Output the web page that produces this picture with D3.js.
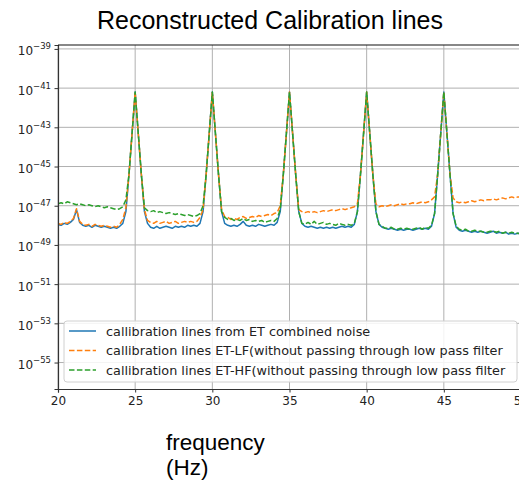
<!DOCTYPE html>
<html>
<head>
<meta charset="utf-8">
<script src="https://cdn.jsdelivr.net/npm/d3@7"></script>
<style>
  html, body { margin: 0; padding: 0; background: #fff; overflow: hidden; }
  svg { display: block; }
</style>
</head>
<body>
<svg id="chart" width="519" height="484"></svg>
<script>
// ---------------- data ----------------
const frequency = [
  20.0,20.2,20.4,20.6,20.8,21.0,21.2,21.4,21.6,21.8,
  22.0,22.2,22.4,22.6,22.8,23.0,23.2,23.4,23.6,23.8,
  24.0,24.2,24.4,24.6,24.8,25.0,25.2,25.4,25.6,25.8,
  26.0,26.2,26.4,26.6,26.8,27.0,27.2,27.4,27.6,27.8,
  28.0,28.2,28.4,28.6,28.8,29.0,29.2,29.4,29.6,29.8,
  30.0,30.2,30.4,30.6,30.8,31.0,31.2,31.4,31.6,31.8,
  32.0,32.2,32.4,32.6,32.8,33.0,33.2,33.4,33.6,33.8,
  34.0,34.2,34.4,34.6,34.8,35.0,35.2,35.4,35.6,35.8,
  36.0,36.2,36.4,36.6,36.8,37.0,37.2,37.4,37.6,37.8,
  38.0,38.2,38.4,38.6,38.8,39.0,39.2,39.4,39.6,39.8,
  40.0,40.2,40.4,40.6,40.8,41.0,41.2,41.4,41.6,41.8,
  42.0,42.2,42.4,42.6,42.8,43.0,43.2,43.4,43.6,43.8,
  44.0,44.2,44.4,44.6,44.8,45.0,45.2,45.4,45.6,45.8,
  46.0,46.2,46.4,46.6,46.8,47.0,47.2,47.4,47.6,47.8,
  48.0,48.2,48.4,48.6,48.8,49.0,49.2,49.4,49.6,49.8,
  50.0
];

// log10 of the amplitude
const combinedLog10 = [
  -47.95,-48.0,-47.9,-47.95,-47.85,-47.7,-47.2,-47.85,-48.0,-48.05,
  -48.0,-48.1,-48.0,-48.05,-48.1,-48.05,-48.1,-48.15,-48.1,-48.15,
  -48.05,-47.9,-47.3,-45.4,-43.3,-41.2,-43.3,-45.4,-47.3,-47.9,
  -48.1,-48.15,-48.05,-48.15,-48.1,-48.05,-48.1,-48.15,-48.05,-48.1,
  -48.05,-48.1,-48.0,-48.05,-48.0,-48.05,-47.9,-47.3,-45.4,-43.3,
  -41.2,-43.3,-45.4,-47.3,-47.9,-48.0,-48.05,-48.0,-48.05,-47.95,
  -47.8,-48.0,-48.05,-48.0,-48.05,-47.95,-48.0,-48.05,-48.0,-47.95,
  -48.0,-47.85,-47.3,-45.4,-43.3,-41.2,-43.3,-45.4,-47.3,-47.9,
  -48.05,-48.1,-48.05,-48.1,-48.15,-48.1,-48.15,-48.1,-48.15,-48.1,
  -48.15,-48.1,-48.05,-48.1,-48.05,-48.1,-47.95,-47.3,-45.4,-43.3,
  -41.2,-43.3,-45.4,-47.3,-47.95,-48.1,-48.15,-48.2,-48.15,-48.2,
  -48.25,-48.2,-48.25,-48.2,-48.2,-48.25,-48.2,-48.15,-48.2,-48.15,
  -48.2,-48.05,-47.4,-45.4,-43.3,-41.2,-43.3,-45.4,-47.4,-48.1,
  -48.25,-48.3,-48.25,-48.3,-48.35,-48.3,-48.35,-48.3,-48.35,-48.4,
  -48.35,-48.3,-48.4,-48.35,-48.4,-48.35,-48.45,-48.4,-48.45,-48.4,
  -48.45
];

const lfLog10 = [
  -47.9,-47.95,-47.85,-47.9,-47.8,-47.65,-47.15,-47.8,-47.95,-48.0,
  -47.95,-48.05,-47.95,-48.0,-48.05,-48.0,-48.05,-48.1,-48.05,-48.1,
  -47.95,-47.7,-47.1,-45.4,-43.3,-41.2,-43.3,-45.4,-47.2,-47.75,
  -47.85,-47.9,-47.8,-47.9,-47.85,-47.8,-47.9,-47.85,-47.8,-47.9,
  -47.85,-47.8,-47.85,-47.8,-47.85,-47.8,-47.6,-47.2,-45.4,-43.3,
  -41.2,-43.3,-45.4,-47.2,-47.55,-47.6,-47.7,-47.65,-47.7,-47.6,
  -47.55,-47.65,-47.6,-47.55,-47.6,-47.5,-47.55,-47.5,-47.45,-47.5,
  -47.4,-47.35,-47.0,-45.4,-43.3,-41.2,-43.3,-45.4,-47.2,-47.3,
  -47.35,-47.3,-47.35,-47.3,-47.35,-47.3,-47.25,-47.3,-47.25,-47.2,
  -47.25,-47.2,-47.15,-47.2,-47.15,-47.1,-47.05,-46.9,-45.4,-43.3,
  -41.2,-43.3,-45.4,-46.9,-47.05,-47.0,-47.05,-47.0,-46.95,-47.0,
  -46.95,-46.9,-46.95,-46.9,-46.9,-46.85,-46.9,-46.85,-46.8,-46.85,
  -46.8,-46.7,-46.55,-45.4,-43.3,-41.2,-43.3,-45.4,-46.6,-46.8,
  -46.85,-46.8,-46.85,-46.8,-46.75,-46.8,-46.75,-46.7,-46.75,-46.7,
  -46.7,-46.65,-46.7,-46.65,-46.6,-46.65,-46.6,-46.55,-46.6,-46.55,
  -46.55
];

const hfLog10 = [
  -46.9,-46.85,-46.9,-46.8,-46.85,-46.9,-46.95,-46.9,-46.95,-47.0,
  -46.95,-47.0,-47.05,-47.0,-47.05,-47.1,-47.05,-47.1,-47.15,-47.2,
  -47.15,-47.05,-46.7,-45.4,-43.3,-41.2,-43.3,-45.4,-47.1,-47.25,
  -47.3,-47.25,-47.35,-47.3,-47.35,-47.4,-47.35,-47.4,-47.45,-47.4,
  -47.45,-47.5,-47.45,-47.5,-47.55,-47.5,-47.4,-47.0,-45.4,-43.3,
  -41.2,-43.3,-45.4,-47.3,-47.6,-47.7,-47.65,-47.75,-47.7,-47.75,
  -47.65,-47.75,-47.7,-47.8,-47.75,-47.8,-47.75,-47.85,-47.8,-47.75,
  -47.8,-47.65,-47.2,-45.4,-43.3,-41.2,-43.3,-45.4,-47.3,-47.9,
  -47.95,-47.85,-47.95,-47.8,-47.95,-47.9,-47.85,-47.95,-47.9,-47.95,
  -48.0,-47.9,-47.95,-48.0,-47.95,-48.0,-47.9,-47.3,-45.4,-43.3,
  -41.2,-43.3,-45.4,-47.3,-47.95,-48.05,-48.15,-48.15,-48.1,-48.2,
  -48.2,-48.15,-48.2,-48.15,-48.2,-48.2,-48.15,-48.1,-48.2,-48.1,
  -48.15,-48.0,-47.4,-45.4,-43.3,-41.2,-43.3,-45.4,-47.4,-48.05,
  -48.2,-48.25,-48.2,-48.3,-48.3,-48.25,-48.3,-48.3,-48.35,-48.35,
  -48.3,-48.3,-48.35,-48.3,-48.4,-48.35,-48.4,-48.35,-48.4,-48.4,
  -48.45
];

const seriesNames = [
  "callibration lines from ET combined noise",
  "callibration lines ET-LF(without passing through low pass filter",
  "callibration lines ET-HF(without passing through low pass filter"
];
const seriesColors = ["#1f77b4", "#ff7f0e", "#2ca02c"];
const xTicks = [20, 25, 30, 35, 40, 45, 50];
const yTickExponents = [-39, -41, -43, -45, -47, -49, -51, -53, -55];
const titleText = "Reconstructed Calibration lines";
const xLabelLines = ["frequency", "(Hz)"];

// ---------------- layout ----------------
const svg = d3.select("#chart");
const plot = { left: 58, top: 45, right: 521, bottom: 389 };

const x = d3.scaleLinear().domain([20, 50]).range([plot.left, plot.right]);
const y = d3.scaleLog().domain([Math.pow(10, -56.35), Math.pow(10, -38.8)]).range([plot.bottom, plot.top]);

// clip
svg.append("defs").append("clipPath").attr("id", "clip")
  .append("rect").attr("x", plot.left).attr("y", plot.top)
  .attr("width", plot.right - plot.left).attr("height", plot.bottom - plot.top);

// grid
const grid = svg.append("g");
grid.selectAll("line.gx").data(xTicks).join("line")
  .attr("x1", d => x(d)).attr("x2", d => x(d))
  .attr("y1", plot.top).attr("y2", plot.bottom)
  .attr("stroke", "#b0b0b0").attr("stroke-width", 1);
grid.selectAll("line.gy").data(yTickExponents).join("line")
  .attr("x1", plot.left).attr("x2", plot.right)
  .attr("y1", d => y(Math.pow(10, d))).attr("y2", d => y(Math.pow(10, d)))
  .attr("stroke", "#b0b0b0").attr("stroke-width", 1);

// lines
const allSeries = [combinedLog10, lfLog10, hfLog10];
const line = d3.line()
  .x((d, i) => x(frequency[i]))
  .y(d => y(Math.pow(10, d)));
const dashes = [null, "5.5,2.4", "5.5,2.4"];
const lines = svg.append("g").attr("clip-path", "url(#clip)");
allSeries.forEach((s, k) => {
  lines.append("path")
    .datum(s)
    .attr("d", line)
    .attr("fill", "none")
    .attr("stroke", seriesColors[k])
    .attr("stroke-width", 1.5)
    .attr("stroke-linejoin", "round")
    .attr("stroke-dasharray", dashes[k]);
});

// axes
const xAxis = d3.axisBottom(x).tickValues(xTicks).tickSize(3.5).tickPadding(3.5).tickFormat(d3.format("d"));
const gx = svg.append("g").attr("transform", `translate(0,${plot.bottom})`).call(xAxis);
gx.select(".domain").attr("stroke", "#333").attr("stroke-width", 1.2);
gx.selectAll(".tick line").attr("stroke", "#333");
gx.selectAll(".tick text").attr("font-family", "DejaVu Sans, sans-serif").attr("font-size", 12).attr("fill", "#222");

const yAxis = d3.axisLeft(y).tickValues(yTickExponents.map(e => Math.pow(10, e))).tickSize(3.5).tickFormat("");
const gy = svg.append("g").attr("transform", `translate(${plot.left},0)`).call(yAxis);
gy.select(".domain").attr("stroke", "#333").attr("stroke-width", 1.2);
gy.selectAll(".tick line").attr("stroke", "#333");
gy.selectAll(".tick").each(function(d) {
  const e = Math.round(Math.log10(d));
  const t = d3.select(this).append("text")
    .attr("x", -7).attr("y", 6)
    .attr("text-anchor", "end")
    .attr("font-family", "DejaVu Sans, sans-serif")
    .attr("font-size", 12)
    .attr("fill", "#222");
  t.append("tspan").text("10");
  t.append("tspan").attr("font-size", 8.5).attr("dy", -6).text("\u2212" + Math.abs(e));
});

// top spine
svg.append("line").attr("x1", plot.left).attr("x2", plot.right)
  .attr("y1", plot.top).attr("y2", plot.top)
  .attr("stroke", "#111").attr("stroke-width", 1.2);

// legend
const leg = svg.append("g");
leg.append("rect").attr("x", 64).attr("y", 321).attr("width", 453).attr("height", 61)
  .attr("rx", 3).attr("fill", "#fff").attr("fill-opacity", 0.85)
  .attr("stroke", "#d0d0d0").attr("stroke-width", 1);
seriesNames.forEach((name, k) => {
  const ly = 331 + k * 19.5;
  leg.append("line").attr("x1", 69).attr("x2", 96).attr("y1", ly).attr("y2", ly)
    .attr("stroke", seriesColors[k]).attr("stroke-width", 1.5)
    .attr("stroke-dasharray", dashes[k] ? "5.5,2.4" : null);
  leg.append("text").attr("x", 106).attr("y", ly + 4.5)
    .attr("font-family", "DejaVu Sans, sans-serif").attr("font-size", 12.8)
    .attr("fill", "#222").text(name);
});

// title
svg.append("text").attr("x", 270).attr("y", 29)
  .attr("text-anchor", "middle")
  .attr("font-family", "Liberation Sans, Arial, sans-serif")
  .attr("font-size", 25).attr("fill", "#000")
  .text(titleText);

// x label
const xl = svg.append("text")
  .attr("font-family", "Liberation Sans, Arial, sans-serif")
  .attr("font-size", 22.5).attr("fill", "#000");
xLabelLines.forEach((s, k) => {
  xl.append("tspan").attr("x", 166).attr("y", 450 + k * 24.5).text(s);
});
</script>
</body>
</html>
